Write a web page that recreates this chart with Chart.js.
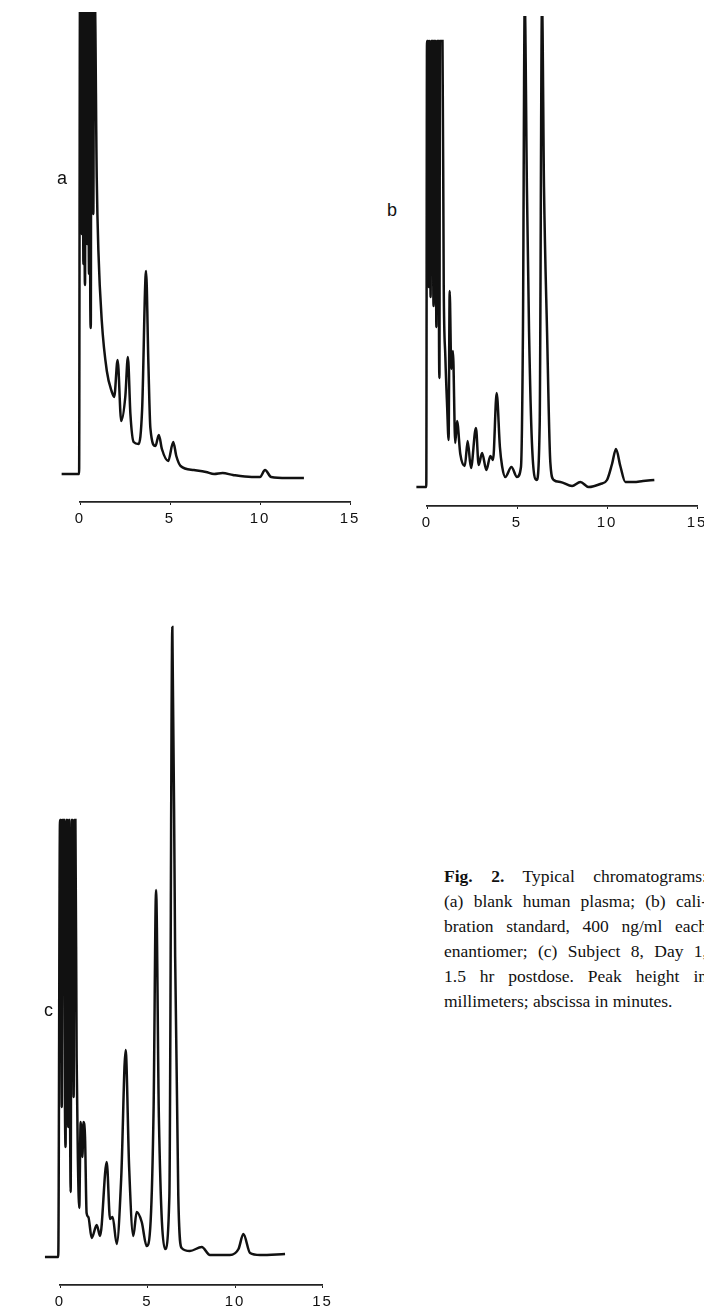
<!DOCTYPE html>
<html>
<head>
<meta charset="utf-8">
<script src="https://cdn.jsdelivr.net/npm/chart.js@4.4.1/dist/chart.umd.min.js"></script>
<style>
  html, body { margin: 0; padding: 0; background: #fff; }
  body { width: 704px; height: 1314px; position: relative; overflow: hidden; }
  canvas { position: absolute; }
  .panel-label { position: absolute; font-family: "Liberation Sans", Arial, sans-serif; font-size: 18px; color: #111; }
  .caption { position: absolute; left: 444px; top: 864px; width: 263px;
             font-family: "Liberation Serif", "Times New Roman", serif; font-size: 17.5px;
             line-height: 25px; color: #111; }
  .caption div { text-align: justify; text-align-last: justify; white-space: nowrap; }
  .caption div.last { text-align-last: left; }
</style>
</head>
<body>

<canvas id="chartA" width="302" height="520" style="left:60px; top:12px;"></canvas>
<canvas id="chartB" width="297" height="520" style="left:407px; top:16px;"></canvas>
<canvas id="chartC" width="295" height="695" style="left:40px; top:620px;"></canvas>

<div class="panel-label" style="left:57px; top:168px;">a</div>
<div class="panel-label" style="left:387px; top:200px;">b</div>
<div class="panel-label" style="left:44px; top:1000px;">c</div>

<div class="caption">
  <div><b>Fig. 2.</b> Typical chromatograms:</div>
  <div>(a) blank human plasma; (b) cali-</div>
  <div>bration standard, 400 ng/ml each</div>
  <div>enantiomer; (c) Subject 8, Day 1,</div>
  <div>1.5 hr postdose. Peak height in</div>
  <div class="last">millimeters; abscissa in minutes.</div>
</div>

<script>
// retention time (min) and peak height above baseline
const timesA = [-1.02, -0.05, 0.0, 0.06, 0.10, 0.14, 0.19, 0.23, 0.26, 0.28, 0.31, 0.36, 0.40, 0.44, 0.50, 0.53,
  0.57, 0.60, 0.63, 0.70, 0.74, 0.78, 0.82, 0.93, 1.02, 1.21, 1.49, 1.77, 1.90, 2.09, 2.29, 2.52, 2.66, 2.80,
  2.98, 3.26, 3.45, 3.67, 3.80, 3.91, 4.19, 4.38, 4.55, 4.90, 5.18, 5.35, 5.59, 6.33, 7.00, 7.45, 7.92, 8.50,
  9.54, 10.00, 10.28, 10.62, 11.50, 12.44];
const heightsA = [0, 0, 480, 480, 240, 480, 210, 480, 215, 189, 480, 480, 230, 480, 200, 480,
  175, 146, 480, 480, 260, 480, 480, 296, 224, 153, 103, 82, 77, 114, 53, 78, 117, 60,
  32, 30, 64, 203, 110, 46, 28, 39, 25, 13, 32, 18, 8, 4, 2, 0, 1, -1,
  -3, -3, 4, -3, -4, -4];

const timesB = [-0.59, -0.04, 0.0, 0.06, 0.10, 0.14, 0.20, 0.24, 0.30, 0.35, 0.37, 0.40, 0.47, 0.52, 0.56, 0.62,
  0.67, 0.69, 0.72, 0.80, 0.86, 0.93, 1.02, 1.12, 1.20, 1.26, 1.35, 1.44, 1.57, 1.67, 1.85, 2.10, 2.26, 2.44,
  2.72, 2.87, 3.06, 3.30, 3.52, 3.67, 3.87, 4.05, 4.17, 4.35, 4.69, 5.00, 5.22, 5.33, 5.43, 5.55, 5.67, 5.83,
  6.09, 6.26, 6.39, 6.50, 6.67, 6.85, 7.04, 7.41, 8.06, 8.52, 8.98, 9.63, 10.00, 10.28, 10.50, 10.74, 11.02,
  11.48, 12.00, 12.63];
const heightsB = [0, 0, 446, 446, 200, 446, 190, 446, 446, 200, 181, 446, 446, 160, 446, 446,
  140, 109, 446, 446, 446, 200, 130, 80, 47, 196, 118, 136, 44, 66, 33, 21, 46, 19,
  59, 22, 34, 17, 31, 27, 94, 40, 21, 10, 20, 10, 20, 155, 485, 300, 155, 44,
  7, 62, 485, 300, 155, 25, 7, 5, 1, 5, 0, 3, 7, 23, 38, 21, 5,
  5, 6, 7];

const timesC = [-0.86, -0.10, 0.0, 0.06, 0.10, 0.14, 0.22, 0.28, 0.32, 0.36, 0.42, 0.47, 0.51, 0.56, 0.61, 0.66,
  0.72, 0.78, 0.82, 0.88, 0.95, 1.03, 1.10, 1.18, 1.28, 1.34, 1.43, 1.52, 1.62, 1.81, 2.10, 2.29, 2.67, 2.86,
  3.01, 3.24, 3.50, 3.75, 3.95, 4.19, 4.38, 4.67, 4.95, 5.18, 5.35, 5.49, 5.65, 6.00, 6.25, 6.42, 6.58, 6.76,
  6.95, 7.42, 8.10, 8.57, 9.71, 10.20, 10.48, 10.86, 11.43, 12.86];
const heightsC = [0, 0, 437, 437, 150, 437, 437, 160, 110, 437, 437, 130, 437, 200, 65, 437,
  437, 160, 437, 437, 200, 90, 49, 135, 100, 135, 120, 44, 40, 19, 32, 21, 95, 38,
  40, 13, 80, 207, 90, 21, 45, 35, 11, 36, 150, 367, 140, 8, 61, 630, 300, 61,
  9, 6, 10, 2, 2, 8, 23, 4, 2, 3];

const tickMinutes = [0, 5, 10, 15];

function drawChromatogram(id, times, heights, yMin, yMax, padRight) {
  const points = times.map((t, i) => ({ x: t, y: heights[i] }));
  return new Chart(document.getElementById(id), {
    type: 'line',
    data: {
      datasets: [{
        data: points,
        borderColor: '#111',
        borderWidth: 2.5,
        pointRadius: 0,
        cubicInterpolationMode: 'monotone',
        clip: { left: false, top: 0, right: false, bottom: false }
      }]
    },
    options: {
      responsive: false,
      animation: false,
      events: [],
      layout: { padding: { left: 20, right: padRight, top: 0, bottom: 0 } },
      plugins: { legend: { display: false }, tooltip: { enabled: false } },
      scales: {
        x: {
          type: 'linear',
          bounds: 'data',
          afterDataLimits: (s) => { s.min = tickMinutes[0]; s.max = tickMinutes[tickMinutes.length - 1]; },
          afterBuildTicks: (s) => { s.ticks = tickMinutes.map(v => ({ value: v })); },
          afterFit: (s) => { s.height = 30; s.paddingLeft = 0; s.paddingRight = 0; },
          border: { display: true, color: '#222', width: 1.8 },
          grid: { drawOnChartArea: false, drawTicks: true, tickLength: 3, color: '#222', lineWidth: 1 },
          ticks: {
            color: '#111',
            padding: 5,
            maxRotation: 0,
            autoSkip: false,
            font: { family: 'Liberation Sans', size: 15 }
          }
        },
        y: { display: false, min: yMin, max: yMax }
      }
    },
    plugins: [{
      id: 'spacedDigits',
      beforeDraw(chart) { chart.ctx.letterSpacing = '2px'; }
    }]
  });
}

drawChromatogram('chartA', timesA, heightsA, -28, 462, 12);
drawChromatogram('chartB', timesB, heightsB, -19, 471, 7);
drawChromatogram('chartC', timesC, heightsC, -28, 637, 12.5);
</script>
</body>
</html>
